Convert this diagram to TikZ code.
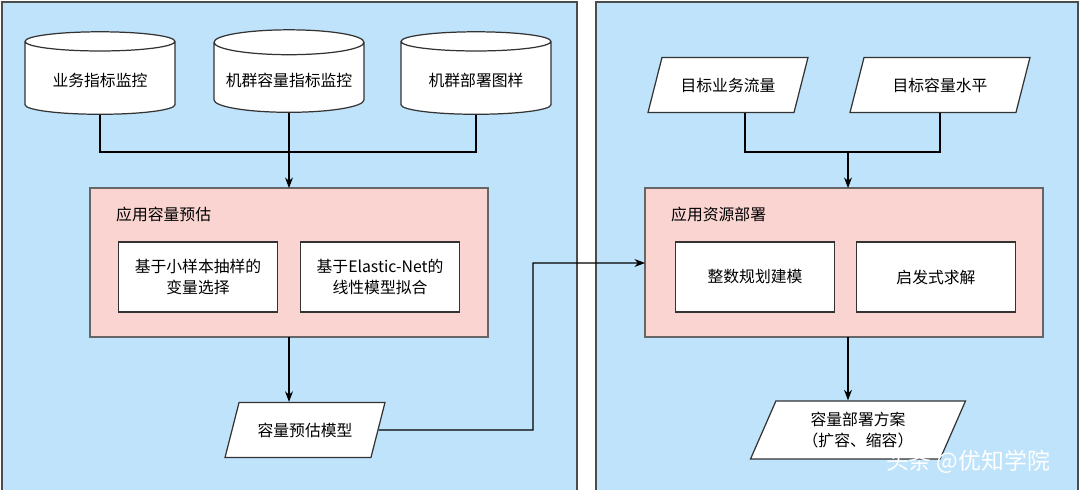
\documentclass[tikz,border=0pt]{standalone}
\usepackage{fontspec}
\setmainfont{Noto Sans CJK SC}
\usetikzlibrary{positioning,shapes.geometric,arrows.meta}
\definecolor{panelblue}{HTML}{BFE3FA}
\definecolor{boxpink}{HTML}{FAD4D0}
\tikzset{
  panel/.style={draw=black!70, fill=panelblue, line width=0.8pt},
  db/.style={cylinder, shape border rotate=90, aspect=0.18, draw=black!80, fill=white,
    minimum width=3cm, minimum height=1.65cm, font=\fontsize{9}{11}\selectfont, line width=0.7pt},
  group/.style={draw=black!60, fill=boxpink, line width=0.7pt},
  task/.style={draw=black!80, fill=white, minimum width=3.18cm, minimum height=1.4cm,
    align=center, font=\fontsize{9}{12}\selectfont, line width=0.7pt},
  data/.style={trapezium, trapezium left angle=62, trapezium right angle=118,
    trapezium stretches body=true, draw=black!80, fill=white, minimum height=1.1cm,
    minimum width=3.2cm, align=center, font=\fontsize{9}{12}\selectfont, line width=0.7pt},
  flow/.style={-{Stealth[length=6pt]}, line width=0.6pt},
  link/.style={line width=0.6pt}
}
\begin{document}
\begin{tikzpicture}[x=0.02cm,y=-0.02cm]
	\useasboundingbox (0,0) rectangle (1080,490);
	\fill[white] (0,0) rectangle (1080,490);
	\draw[panel] (2,2) rectangle (577,500);
	\draw[panel] (596,2) rectangle (1078,500);
	% left panel
	\node[db] (kpi) at (100,80) {业务指标监控};
	\node[db] (cap) at (289,80) {机群容量指标监控};
	\node[db] (dep) at (476,80) {机群部署图样};
	\coordinate (mergeL) at (289,152);
	\draw[link] (kpi.south) |- (mergeL);
	\draw[link] (dep.south) |- (mergeL);
	\draw[link] (cap.south) -- (mergeL);
	\draw[group] (90,188) rectangle (488,337);
	\node[anchor=west, font=\fontsize{9}{11}\selectfont] (estT) at (110,214) {应用容量预估};
	\node[task] (samp) at (198,277) {基于小样本抽样的\\变量选择};
	\node[task] (enet) at (380,277) {基于Elastic-Net的\\线性模型拟合};
	\coordinate (estTop) at (289,188);
	\coordinate (estBot) at (289,337);
	\draw[flow] (mergeL) -- (estTop);
	\node[data] (model) at (305,430) {容量预估模型};
	\draw[flow] (estBot) -- (model.north -| estBot);
	% right panel
	\node[data] (traffic) at (728,85) {目标业务流量};
	\node[data, minimum width=3.6cm] (level) at (940,85) {目标容量水平};
	\coordinate (mergeR) at (848,152);
	\draw[link] (traffic.south -| 745,0) |- (mergeR);
	\draw[link] (level.south) |- (mergeR);
	\draw[group] (645,188) rectangle (1043,337);
	\node[anchor=west, font=\fontsize{9}{11}\selectfont] (depT) at (665,214) {应用资源部署};
	\node[task] (ip) at (755,277) {整数规划建模};
	\node[task] (heur) at (936,277) {启发式求解};
	\coordinate (depTop) at (848,188);
	\coordinate (depBot) at (848,337);
	\coordinate (depIn) at (645,263);
	\draw[flow] (mergeR) -- (depTop);
	\node[data, minimum width=4.3cm, minimum height=1.16cm] (plan) at (858,430) {容量部署方案\\（扩容、缩容）};
	\draw[flow] (depBot) -- (plan.north -| depBot);
	% cross link
	\draw[flow] (model.east) -- (533,430) |- (depIn);
	\node[text=white, font=\fontsize{13}{15}\selectfont] (mark) at (968,462) {头条 @优知学院};
\end{tikzpicture}
\end{document}
